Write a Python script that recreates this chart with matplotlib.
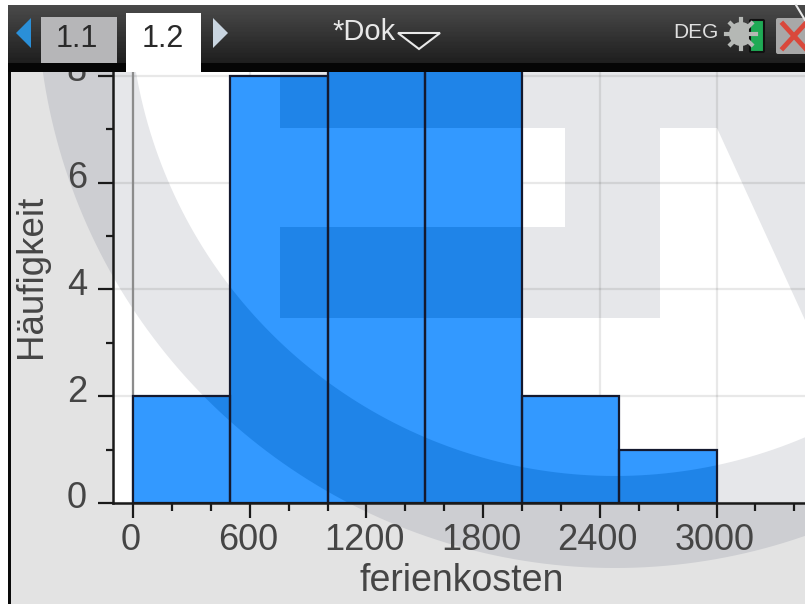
import numpy as np
import matplotlib
matplotlib.use("Agg")
import matplotlib.pyplot as plt
from matplotlib.patches import Circle, PathPatch, Polygon, Rectangle, FancyBboxPatch
from matplotlib.path import Path
from matplotlib.transforms import Affine2D, ScaledTranslation

bin_edges = [0, 500, 1000, 1500, 2000, 2500, 3000]
counts = [2, 8, 10, 10, 2, 1]  # the two middle bars run off the top, height is a guess
x_major = [0, 600, 1200, 1800, 2400, 3000]
x_minor = [200, 400, 800, 1000, 1400, 1600, 2000, 2200, 2600, 2800, 3200, 3400]
y_major = [0, 2, 4, 6, 8]
y_minor = [1, 3, 5, 7]

W, H = 805, 604
TEXT = "#454545"
LINE = "#14192e"
plt.rcParams["font.family"] = ["Liberation Sans", "DejaVu Sans"]

fig = plt.figure(figsize=(W / 100, H / 100), dpi=100, facecolor="white")
# pixel coordinates of the picture, y going down
px = Affine2D().scale(1 / W, -1 / H).translate(0, 1) + fig.transFigure

# gray screen panel with black left border
fig.add_artist(Rectangle((8, 60), W, H, transform=px, fc="#e3e3e3", ec="none", zorder=-5))

# logo watermark behind the chart
theta = np.linspace(0, 2 * np.pi, 361)
outer = np.column_stack([615 + 578 * np.cos(theta), -10 + 578 * np.sin(theta)])
inner = np.column_stack([615 + 486 * np.cos(theta[::-1]), -10 + 486 * np.sin(theta[::-1])])
ring = Path.make_compound_path(Path(outer), Path(inner))
letters = [
    Path([(280, 60), (805, 60), (805, 128), (280, 128), (280, 60)]),
    Path([(565, 60), (660, 60), (660, 318), (565, 318), (565, 60)]),
    Path([(280, 227), (660, 227), (660, 318), (280, 318), (280, 227)]),
    Path([(717, 128), (805, 128), (805, 320), (717, 128)]),
]
shapes = [ring] + letters

fig.add_artist(PathPatch(ring, transform=px, fc="#cdced2", ec="none", zorder=-4))
fig.add_artist(Rectangle((8, 60), 3, H, transform=px, fc="#0a0a0a", ec="none", zorder=-3))

ax = fig.add_axes([113 / W, (H - 503) / H, (W - 113) / W, (503 - 72) / H])
ax.set_facecolor("white")
ax.set_xlim(-103, 3455)
ax.set_ylim(0, 8.07)

for shape in shapes:
    ax.add_patch(PathPatch(shape, transform=px, fc="#e6e7ea", ec="none", zorder=0.2))

left = bin_edges[:-1]
widths = np.diff(bin_edges)
ax.bar(left, counts, widths, align="edge", color="#3399ff", zorder=2)
for shape in shapes:
    dark = ax.bar(left, counts, widths, align="edge", color="#1f84e8", zorder=2.1)
    for b in dark:
        b.set_clip_path(shape, px)
ax.bar(left, counts, widths, align="edge", fill=False, edgecolor=LINE, linewidth=1.6, zorder=2.2)

ax.set_axisbelow(True)
ax.grid(True, which="major", color="black", alpha=0.09, linewidth=1.6)
ax.axvline(0, color="#8c8c8c", linewidth=1.6, zorder=0.6)

ax.set_xticks(x_major)
ax.set_xticks(x_minor, minor=True)
ax.set_yticks(y_major)
ax.set_yticks(y_minor, minor=True)
ax.tick_params(axis="both", which="major", length=10.8, width=1.6, color="#1a1a1a",
               labelsize=26, labelcolor=TEXT)
ax.tick_params(axis="both", which="minor", length=5.4, width=1.6, color="#1a1a1a")
ax.tick_params(axis="x", which="major", pad=3.5)
ax.tick_params(axis="y", which="major", pad=8)
# the numbers sit a bit off their ticks on the handheld
for label in ax.get_xticklabels():
    label.set_transform(label.get_transform() + ScaledTranslation(-2 / 100, 0, fig.dpi_scale_trans))
for label in ax.get_yticklabels():
    label.set_transform(label.get_transform() + ScaledTranslation(0, 8 / 100, fig.dpi_scale_trans))
for side in ["top", "right"]:
    ax.spines[side].set_visible(False)
for side in ["left", "bottom"]:
    ax.spines[side].set_linewidth(1.8)
    ax.spines[side].set_color("#1a1a1a")

fig.text(462 / W, 1 - 581 / H, "ferienkosten", fontsize=27, color=TEXT, ha="center", va="center")
fig.text(32 / W, 1 - 276 / H, "Häufigkeit", fontsize=26.5, color=TEXT, ha="center", va="center",
         rotation=90)

# title bar of the handheld window
bar = fig.add_axes([0, (H - 72) / H, 1, 72 / H], zorder=10)
bar.axis("off")
shade = np.interp(np.arange(72), [5, 62, 63, 72], [0.29, 0.12, 0.02, 0.02]).reshape(-1, 1)
bar.imshow(shade, extent=[0, W, 72, 0], cmap="gray", vmin=0, vmax=1, aspect="auto")
bar.set_xlim(0, W)
bar.set_ylim(72, 0)
bar.add_patch(Rectangle((0, 0), W, 5, fc="white", ec="none"))
bar.add_patch(Rectangle((0, 0), 8, 72, fc="white", ec="none"))
bar.add_patch(Rectangle((41, 17), 76, 46, fc="#b6b6b8", ec="none"))
bar.add_patch(Rectangle((126, 13), 75, 59, fc="white", ec="none"))
bar.add_patch(Polygon([(31, 18), (31, 48), (16, 33)], fc="#2a8fd8", ec="none"))
bar.add_patch(Polygon([(213, 18), (213, 48), (228, 33)], fc="#c9d5e0", ec="none"))
bar.text(77, 39, "1.1", fontsize=22, color="#2a2a2a", ha="center", va="center")
bar.text(163, 39, "1.2", fontsize=22, color="#2a2a2a", ha="center", va="center")
bar.text(364, 32, "*Dok", fontsize=21, color="#e8e8e8", ha="center", va="center")
bar.add_patch(Polygon([(398, 33), (440, 33), (419, 49)], fc="#202020", ec="#e8e8e8", lw=1.5))
bar.text(696, 32, "DEG", fontsize=15, color="#e0e0e0", ha="center", va="center")
# battery icon with gear behind it
bar.add_patch(Circle((741, 34), 12, fc="#b5b8b5", ec="none"))
for angle in np.deg2rad([0, 45, 90, 135]):
    dx, dy = 15 * np.cos(angle), 15 * np.sin(angle)
    bar.plot([741 - dx, 741 + dx], [34 - dy, 34 + dy], color="#b5b8b5", lw=3)
bar.add_patch(FancyBboxPatch((751, 21), 12, 30, boxstyle="round,pad=1", fc="#1faa55", ec="#111111", lw=1.5))
bar.add_patch(FancyBboxPatch((778, 20), 30, 32, boxstyle="round,pad=2", fc="#a8a8a8", ec="none"))
bar.plot([783, 805], [24, 48], color="#d9483b", lw=3.5)
bar.plot([783, 805], [48, 24], color="#d9483b", lw=3.5)
bar.plot([796, 805], [5, 20], color="#e8e8e8", lw=1.5)

fig.savefig("out.png", dpi=100)
